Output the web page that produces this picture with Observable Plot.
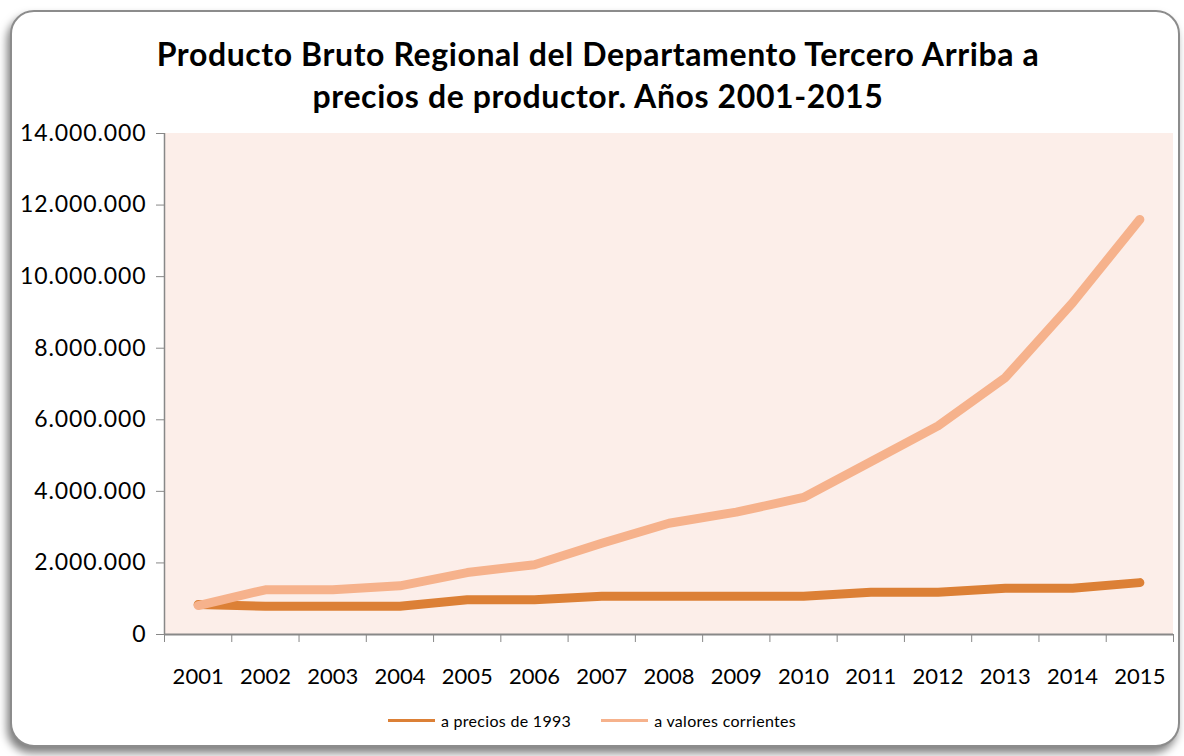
<!DOCTYPE html>
<html>
<head>
<meta charset="utf-8">
<script src="https://cdn.jsdelivr.net/npm/d3@7"></script>
<script src="https://cdn.jsdelivr.net/npm/@observablehq/plot@0.6"></script>
<style>
  html, body { margin: 0; padding: 0; background: #fff; }
  #wrap { position: relative; width: 1184px; height: 756px; overflow: hidden; background: #fff; font-family: Lato, "Open Sans", sans-serif; }
  #frame { position: absolute; left: 10px; top: 10px; width: 1166px; height: 733px; border: 2px solid #8c8c8c; border-radius: 24px; box-shadow: -3px 6px 8px rgba(0,0,0,0.5); background: #fff; }
  #title { position: absolute; left: 0; width: 1196px; top: 33px; text-align: center; font: bold 32px Lato, sans-serif; letter-spacing: 0.6px; line-height: 42px; color: #000; }
  #chart { position: absolute; left: 0; top: 100px; }
  #chart svg { overflow: visible; }
  #chart .yax text { letter-spacing: 0.9px; }
  #legend { position: absolute; top: 711px; left: 0; width: 1184px; display: flex; justify-content: center; gap: 30px; font: 16px Lato, sans-serif; letter-spacing: 0.3px; color: #000; }
  .item { display: flex; align-items: center; gap: 6px; }
  .swatch { width: 47px; height: 3px; }
</style>
</head>
<body>
<div id="wrap">
  <div id="frame"></div>
  <div id="title">Producto Bruto Regional del Departamento Tercero Arriba a<br>precios de productor. Años 2001-2015</div>
  <div id="chart"></div>
  <div id="legend"></div>
</div>
<script>
const years = [2001, 2002, 2003, 2004, 2005, 2006, 2007, 2008, 2009, 2010, 2011, 2012, 2013, 2014, 2015];
const precios1993 = [840000, 790000, 790000, 790000, 970000, 970000, 1070000, 1070000, 1070000, 1070000, 1180000, 1180000, 1290000, 1290000, 1450000];
const valoresCorrientes = [810000, 1250000, 1250000, 1360000, 1730000, 1950000, 2550000, 3110000, 3420000, 3830000, 4830000, 5830000, 7180000, 9270000, 11600000];
const seriesNames = ["a precios de 1993", "a valores corrientes"];
const seriesColors = ["#DC8036", "#F6B28C"];
const yTicks = [0, 2000000, 4000000, 6000000, 8000000, 10000000, 12000000, 14000000];

const data = [];
years.forEach((y, i) => {
  data.push({year: y, value: precios1993[i], series: seriesNames[0]});
  data.push({year: y, value: valoresCorrientes[i], series: seriesNames[1]});
});
const boundaries = [years[0] - 0.5, ...years.map(y => y + 0.5)];
const fmt = v => d3.format(",")(v).replace(/,/g, ".");

const chart = Plot.plot({
  width: 1184,
  height: 600,
  marginLeft: 164,
  marginRight: 11,
  marginTop: 33,
  marginBottom: 66,
  style: {background: "transparent", fontFamily: "Lato, sans-serif", color: "#000"},
  x: {type: "linear", domain: [boundaries[0], boundaries[boundaries.length - 1]]},
  y: {domain: [0, 14000000]},
  color: {domain: seriesNames, range: seriesColors},
  marks: [
    Plot.rect([{}], {x1: boundaries[0], x2: boundaries[boundaries.length - 1], y1: 0, y2: 14000000, fill: "#FCEEE9"}),
    Plot.axisY({ticks: yTicks, tickFormat: fmt, tickSize: 8, tickPadding: 10, fontSize: 23, stroke: "#888", label: null, className: "yax"}),
    Plot.ruleX([boundaries[0]], {stroke: "#888", strokeWidth: 1.5}),
    Plot.ruleY([0], {stroke: "#888", strokeWidth: 2}),
    Plot.axisX({ticks: boundaries, tickFormat: () => "", tickSize: 8, stroke: "#888", label: null}),
    Plot.axisX({ticks: years, tickFormat: d => String(d), tickSize: 0, tickPadding: 34, fontSize: 22, label: null}),
    Plot.line(data, {x: "year", y: "value", z: "series", stroke: "series", strokeWidth: 9, strokeLinecap: "round", strokeLinejoin: "round"})
  ]
});
document.getElementById("chart").appendChild(chart);

const legend = document.getElementById("legend");
seriesNames.forEach((n, i) => {
  const it = document.createElement("div");
  it.className = "item";
  const sw = document.createElement("div");
  sw.className = "swatch";
  sw.style.background = seriesColors[i];
  const t = document.createElement("span");
  t.textContent = n;
  it.appendChild(sw); it.appendChild(t);
  legend.appendChild(it);
});
</script>
</body>
</html>
